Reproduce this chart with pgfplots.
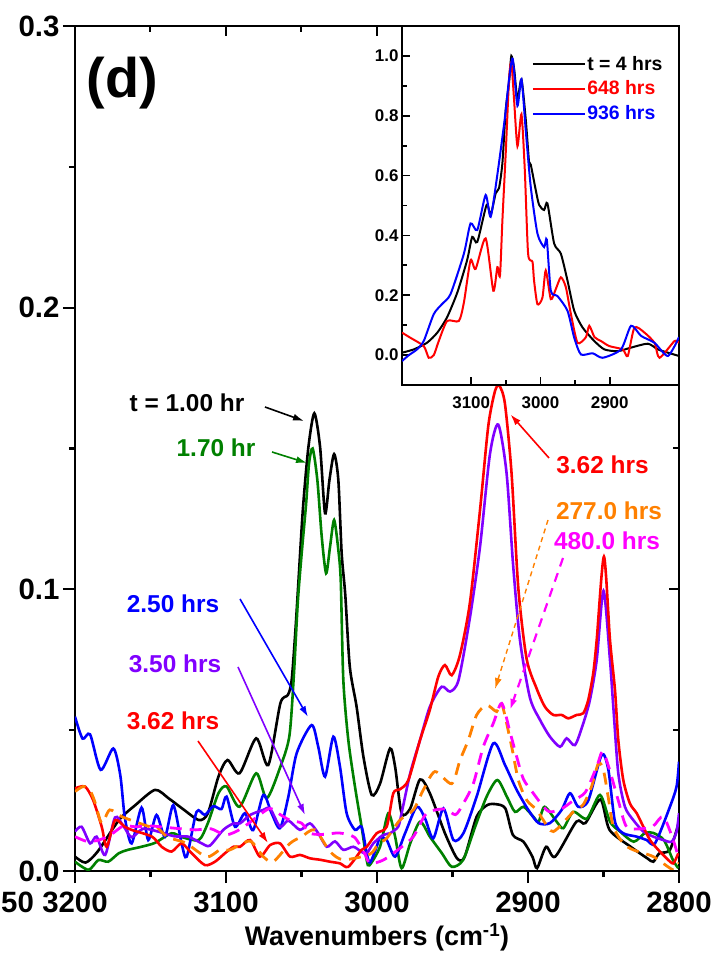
\documentclass[border=0pt]{standalone}
\usepackage{fontspec}
\setmainfont{Liberation Sans}
\usepackage{pgfplots}
\pgfplotsset{compat=1.18}
\usetikzlibrary{arrows.meta}

\definecolor{cgreen}{RGB}{0,128,0}
\definecolor{cviolet}{RGB}{128,0,255}
\definecolor{corange}{RGB}{255,128,0}
\definecolor{cmagenta}{RGB}{255,0,255}

\newcommand{\tickfont}{\bfseries\fontsize{29.5}{31}\selectfont}
\newcommand{\lblfont}{\bfseries\fontsize{24.5}{26}\selectfont}
\newcommand{\insetfont}{\bfseries\fontsize{17}{19}\selectfont}

\pgfplotsset{
  spec/.style={line width=2.6bp, smooth, tension=0.45},
  dspec/.style={line width=2.8bp, smooth, tension=0.45, dash pattern=on 12bp off 8bp},
}

\begin{document}
\begin{tikzpicture}
\useasboundingbox (0,0) rectangle (717bp,963bp);

% ---------------- main panel ----------------
\begin{axis}[
  at={(75bp,92bp)}, anchor=south west,
  scale only axis, width=604bp, height=845bp,
  x dir=reverse, xmin=2800, xmax=3200, ymin=0, ymax=0.3,
  xtick={2800,2900,3000,3100,3200}, ytick={0,0.1,0.2,0.3},
  minor x tick num=1, minor y tick num=1,
  xtick pos=left, ytick pos=left,
  tick align=outside,
  major tick length=12bp, minor tick length=6bp,
  axis line style={line width=2.5bp},
  every tick/.style={line width=2.2bp, black},
  scaled y ticks=false,
  /pgf/number format/assume math mode=true,
  /pgf/number format/1000 sep={},
  yticklabel style={/pgf/number format/fixed, /pgf/number format/precision=1,
    /pgf/number format/fixed zerofill},
  xticklabel style={yshift=-5bp},
  ticklabel style={font=\tickfont},
  xlabel={Wavenumbers (cm\textsuperscript{-1})},
  xlabel style={font=\bfseries\fontsize{27}{29}\selectfont, yshift=-4bp},
]
% t = 1.00 hr
\addplot[spec, black] coordinates {
(3200,0.0051)(3193,0.0030)(3185,0.0069)(3171,0.018)(3160,0.0234)(3147,0.0288)
(3138,0.0258)(3129,0.0222)(3118,0.0181)(3112,0.0205)(3105,0.0335)(3099,0.0394)
(3091,0.0347)(3080,0.0471)(3072,0.0376)(3064,0.0595)(3059,0.0625)(3056.5,0.0678)
(3054,0.0856)(3052,0.103)(3049,0.129)(3045.4,0.1506)(3041.5,0.1625)(3037.7,0.1506)
(3034.4,0.127)(3031.5,0.1388)(3028.4,0.148)(3025.6,0.1388)(3023.4,0.1128)(3021,0.098)
(3018,0.0725)(3013.5,0.0583)(3009,0.0406)(3003.5,0.027)(2998,0.031)(2991.4,0.0435)
(2988,0.037)(2983.7,0.0205)(2978,0.0222)(2971.5,0.0325)(2965,0.0276)(2955,0.0134)
(2947,0.0045)(2942,0.005)(2934,0.0193)(2927,0.0234)(2921,0.0237)(2915,0.0222)
(2910,0.0128)(2903,0.0104)(2897,0.005)(2894,0.001)(2888,0.0086)(2882,0.0051)
(2868,0.0175)(2862,0.017)(2852,0.0254)(2846,0.0146)(2832,0.0086)(2821,0.0045)
(2817,0.0033)(2813,0.0063)(2806,0.0075)(2800,0.0175)};
% 1.70 hr
\addplot[spec, cgreen] coordinates {
(3200,0.0033)(3191,0.0004)(3184.5,0.0039)(3178,0.0033)(3171,0.0063)(3165,0.0075)
(3156,0.0086)(3147,0.010)(3136,0.0134)(3129,0.012)(3118,0.011)(3112,0.017)
(3105,0.0276)(3099.6,0.030)(3091,0.0228)(3080,0.0347)(3073,0.0258)(3064,0.037)
(3058,0.048)(3055,0.070)(3052.5,0.095)(3050,0.112)(3047,0.130)(3045,0.1447)
(3042.6,0.150)(3039.5,0.1388)(3036.6,0.1187)(3033.7,0.1057)(3031.1,0.1151)
(3028.4,0.1246)(3025.6,0.114)(3024,0.103)(3022.3,0.0678)(3019,0.0465)(3014.6,0.030)
(3010.2,0.0157)(3006.8,0.0039)(3005,0.002)(2998,0.0086)(2992.5,0.0205)(2988,0.0122)
(2983.7,0.001)(2978,0.0098)(2971.5,0.0175)(2965,0.0122)(2957,0.0063)(2950.5,0.0015)
(2943,0.0039)(2935,0.0157)(2927.4,0.0264)(2920.3,0.0323)(2914,0.0264)(2908.6,0.021)
(2903,0.0228)(2896.5,0.0193)(2893,0.0175)(2889,0.0228)(2881,0.0175)(2876.6,0.0152)
(2870,0.021)(2861,0.0186)(2852.3,0.027)(2845.7,0.0175)(2839,0.014)(2830,0.0104)
(2822.5,0.0135)(2817,0.0135)(2810,0.011)(2804,0.0039)(2800.5,0.001)};
% 2.50 hrs
\addplot[spec, blue] coordinates {
(3200,0.0548)(3195,0.0470)(3190,0.0485)(3183,0.0359)(3174.6,0.0435)(3170,0.0340)
(3167,0.019)(3162.5,0.0098)(3155.9,0.0225)(3151.5,0.011)(3146,0.0199)(3140.4,0.0122)
(3134.9,0.0234)(3129.4,0.0098)(3126,0.0051)(3119.5,0.021)(3114,0.0199)(3108.4,0.023)
(3103,0.022)(3099.6,0.0264)(3094,0.0157)(3087.5,0.0205)(3082,0.0145)(3075.3,0.027)
(3069.8,0.0205)(3064.2,0.0152)(3058.7,0.0264)(3053.2,0.0418)(3043.3,0.0518)
(3038.9,0.0441)(3034.4,0.0335)(3028.9,0.0477)(3024.5,0.037)(3020.1,0.0205)
(3014.6,0.0146)(3010.2,0.0157)(3006.8,0.0063)(3004.6,0.003)(3000.2,0.0086)
(2998,0.0120)(2993.6,0.011)(2988,0.0051)(2981.4,0.0134)(2973.7,0.0228)(2968.2,0.0187)
(2962.7,0.0116)(2956,0.0222)(2949.4,0.011)(2942.8,0.0134)(2934,0.0264)(2923,0.0453)
(2915.2,0.0376)(2907.5,0.0288)(2899.8,0.0217)(2893,0.017)(2885.5,0.017)(2877.7,0.0217)
(2872.2,0.0276)(2866.7,0.0228)(2860.1,0.025)(2851.2,0.0412)(2846.8,0.036)
(2842.4,0.0175)(2836.9,0.0134)(2828,0.0122)(2821.4,0.011)(2815.9,0.0098)(2806,0.0228)
(2801.6,0.030)(2800,0.0388)};
% 3.50 hrs
\addplot[spec, cviolet] coordinates {
(3200,0.014)(3195.6,0.0157)(3190,0.0098)(3185.7,0.0122)(3180,0.0057)(3173.5,0.0190)
(3168,0.016)(3162.5,0.012)(3155,0.015)(3145,0.0140)(3134,0.0123)(3125,0.0122)
(3116,0.0098)(3110.7,0.009)(3101.8,0.0146)(3095,0.0169)(3090.7,0.0169)(3084,0.0199)
(3075.3,0.0217)(3070.8,0.0222)(3064.2,0.0157)(3058.7,0.0179)(3051,0.0146)(3044.4,0.0169)
(3038.9,0.0134)(3033.3,0.0086)(3027.8,0.0105)(3022.3,0.0075)(3015.7,0.0086)
(3010.2,0.0068)(3006.8,0.0063)(3002.4,0.0098)(2995.8,0.0128)(2991.4,0.0134)
(2986,0.0157)(2983.7,0.0205)(2978,0.0347)(2971.5,0.0465)(2965,0.0583)(2957.2,0.0654)
(2951.6,0.0637)(2946,0.0678)(2938.5,0.0898)(2931.8,0.115)(2925.2,0.148)(2919.7,0.1585)
(2914.2,0.1413)(2909.8,0.1083)(2905.3,0.0819)(2898.7,0.0615)(2892,0.0536)(2885.5,0.0477)
(2878.8,0.0441)(2874.4,0.0471)(2868.9,0.0447)(2863.4,0.0524)(2859,0.0607)(2854.5,0.0749)
(2850,0.0995)(2845.7,0.0749)(2843.5,0.0583)(2840.2,0.0347)(2835.8,0.0228)(2830.3,0.0181)
(2823.6,0.014)(2817,0.0122)(2810.4,0.011)(2804.9,0.0104)(2801.6,0.014)(2800,0.0205)};
% 3.62 hrs
\addplot[spec, red] coordinates {
(3200,0.0293)(3193.4,0.030)(3188,0.0252)(3182.3,0.0157)(3179,0.0086)(3173.5,0.018)
(3167,0.0157)(3162.5,0.0146)(3149,0.0122)(3142.6,0.0086)(3136,0.0069)(3129.4,0.0098)
(3122.7,0.0063)(3114,0.0021)(3107.3,0.0033)(3100.7,0.0063)(3095,0.0086)(3090.7,0.0086)
(3084,0.011)(3077.5,0.0051)(3070.8,0.0092)(3064.2,0.0098)(3057.6,0.0051)(3051,0.0057)
(3044.4,0.0045)(3037.8,0.004)(3031.1,0.0033)(3024.5,0.0027)(3019,0.0015)(3010.2,0.0075)
(3006.8,0.0086)(3000.2,0.0134)(2993.6,0.0157)(2989.2,0.0276)(2984.8,0.029)(2979.2,0.0323)
(2971.5,0.0465)(2965,0.0572)(2959.4,0.069)(2955,0.0731)(2950.5,0.0695)(2945.1,0.0766)
(2938.5,0.0951)(2931.8,0.128)(2926.3,0.158)(2921.9,0.1703)(2919,0.1723)(2915.3,0.166)
(2910.9,0.1413)(2906.4,0.1004)(2900.9,0.0753)(2894.3,0.0648)(2888.8,0.0583)
(2883.2,0.0554)(2877.7,0.0554)(2873.3,0.0542)(2867.8,0.0554)(2863.4,0.056)(2860.1,0.0607)
(2856.8,0.0702)(2854.5,0.082)(2849.7,0.1116)(2845.7,0.082)(2842.4,0.0643)(2840.2,0.0465)
(2836.9,0.0323)(2832.5,0.024)(2828,0.0205)(2823.6,0.0157)(2819.2,0.011)(2813.7,0.0075)
(2808.2,0.0045)(2803.8,0.0027)(2800.5,0.0063)};
% 277.0 hrs
\addplot[dspec, corange] coordinates {
(3200,0.0282)(3194.5,0.030)(3190,0.0285)(3186.8,0.0245)(3182.3,0.017)(3177,0.0217)
(3169,0.0193)(3158,0.0171)(3150.3,0.0157)(3146,0.0157)(3139.3,0.0122)(3132.7,0.011)
(3126.1,0.0098)(3112.8,0.005)(3104,0.0075)(3097.4,0.0075)(3084.1,0.0106)(3075.3,0.0051)
(3068.7,0.0033)(3057.6,0.0098)(3049.9,0.0122)(3041.1,0.0146)(3031.1,0.0069)(3022.3,0.004)
(3004.6,0.006)(2999.1,0.0098)(2993.6,0.0116)(2984.8,0.0181)(2975.9,0.0217)(2969.3,0.0288)
(2961.6,0.0353)(2950.5,0.031)(2945,0.0394)(2939.5,0.0465)(2934,0.0554)(2927.4,0.0589)
(2920.7,0.0566)(2917.4,0.0595)(2910.8,0.0441)(2906.4,0.0323)(2900.9,0.0252)(2894.2,0.0217)
(2889.9,0.0181)(2883.2,0.014)(2870,0.021)(2863.4,0.0236)(2857.9,0.030)(2853.4,0.0382)
(2850.1,0.036)(2846.8,0.026)(2843.5,0.0157)(2836.9,0.0098)(2830.3,0.0075)(2817,0.0051)
(2803.8,0.0004)(2800,0.003)};
% 480.0 hrs
\addplot[dspec, cmagenta] coordinates {
(3200,0.0122)(3192,0.0105)(3184,0.011)(3176,0.013)(3168,0.016)(3160,0.0157)(3150,0.016)
(3140,0.0155)(3130,0.015)(3120,0.0146)(3110,0.0150)(3100,0.0128)(3090,0.015)(3080,0.019)
(3071,0.0222)(3064,0.020)(3057.6,0.018)(3050,0.017)(3044.4,0.0134)(3035,0.013)
(3025,0.0135)(3015,0.012)(3008,0.006)(3004.6,0.0027)(2995.8,0.0039)(2985,0.008)
(2975.9,0.0122)(2967.1,0.0205)(2955,0.022)(2948,0.020)(2942.8,0.024)(2936.2,0.031)
(2929.6,0.0441)(2923,0.0524)(2917.4,0.0595)(2911.9,0.0493)(2907.5,0.0406)(2903,0.0326)
(2896.5,0.0276)(2890,0.023)(2885.5,0.021)(2878,0.022)(2870,0.025)(2862,0.028)
(2854.5,0.037)(2850.6,0.0424)(2846,0.036)(2840.2,0.025)(2834.7,0.0157)(2825,0.015)
(2817,0.016)(2810.4,0.0193)(2803.8,0.011)(2800,0.004)};
\end{axis}

% mirrored ticks on the top and right edges
\begin{axis}[
  at={(75bp,92bp)}, anchor=south west,
  scale only axis, width=604bp, height=845bp,
  x dir=reverse, xmin=2800, xmax=3200, ymin=0, ymax=0.3,
  xtick={2800,2900,3000,3100,3200}, ytick={0,0.1,0.2,0.3},
  minor x tick num=1, minor y tick num=1,
  xtick pos=right, ytick pos=right,
  tick align=inside,
  major tick length=10bp, minor tick length=6bp,
  axis line style={draw=none},
  every tick/.style={line width=2bp, black},
  xticklabels={}, yticklabels={},
]
\end{axis}

% ---------------- inset ----------------
\begin{axis}[
  at={(402bp,578bp)}, anchor=south west,
  scale only axis, width=277bp, height=359bp,
  axis background/.style={fill=white},
  x dir=reverse, xmin=2800, xmax=3200, ymin=-0.1, ymax=1.1,
  xtick={2900,3000,3100}, ytick={0,0.2,0.4,0.6,0.8,1.0},
  minor x tick num=1, minor y tick num=1,
  xtick pos=left, ytick pos=left,
  tick align=inside,
  major tick length=8bp, minor tick length=5bp,
  axis line style={line width=2.5bp},
  every tick/.style={line width=1.8bp, black},
  /pgf/number format/assume math mode=true,
  /pgf/number format/1000 sep={},
  yticklabel style={/pgf/number format/fixed, /pgf/number format/precision=1,
    /pgf/number format/fixed zerofill},
  xticklabel style={yshift=-8bp},
  ticklabel style={font=\insetfont},
  legend cell align=left,
  legend image code/.code={\draw[#1] (0bp,0bp) -- (52bp,0bp);},
  legend style={draw=none, fill=none, at={(rel axis cs:0.468,0.921)}, anchor=north west,
    font=\bfseries\fontsize{19.5}{21}\selectfont, inner sep=0pt, row sep=6.3bp,
    nodes={inner sep=1.5bp}},
]
\addplot[line width=2bp, black, smooth, tension=0.4] coordinates {
(3200,0.008)(3183,0.019)(3164,0.041)(3149,0.075)(3135,0.126)(3120,0.21)(3106,0.317)
(3098.6,0.395)(3091.3,0.378)(3077.8,0.502)(3072,0.468)(3064.7,0.541)(3059.9,0.558)
(3055,0.642)(3050.2,0.82)(3045.4,0.911)(3042.1,1.0)(3038,0.956)(3033.3,0.855)
(3027.5,0.922)(3021.3,0.788)(3016.4,0.642)(3014,0.636)(3006.9,0.552)(3002,0.502)
(2994.8,0.485)(2990,0.507)(2980.3,0.373)(2970.6,0.339)(2961,0.249)(2951.3,0.148)
(2939.2,0.092)(2922.3,0.047)(2907.8,0.019)(2888.5,0.013)(2869.2,0.025)(2845,0.038)
(2830.5,0.019)(2816,0.008)(2800,-0.003)};
\addlegendentry{t = 4 hrs}
\addplot[line width=2bp, red, smooth, tension=0.4] coordinates {
(3200,0.075)(3188,0.058)(3168.6,0.03)(3161.4,-0.009)(3154.1,0.0)(3146.9,0.047)
(3134.8,0.114)(3117.9,0.114)(3110.6,0.176)(3101,0.317)(3093.7,0.288)(3079.2,0.39)
(3068.1,0.215)(3062.3,0.294)(3058.5,0.266)(3055,0.451)(3050.2,0.676)(3045.4,0.922)
(3042.1,0.979)(3038.2,0.855)(3033.3,0.698)(3027.5,0.805)(3022.7,0.62)(3017.9,0.339)
(3011.6,0.312)(3009.3,0.249)(3004.4,0.17)(2997.2,0.192)(2992.4,0.283)(2985.1,0.187)
(2978,0.22)(2970.6,0.26)(2963.4,0.227)(2956.1,0.137)(2946.5,0.041)(2934.4,0.06)
(2929.6,0.098)(2922,0.06)(2912.7,0.047)(2900.6,0.03)(2881.3,0.019)(2874,-0.003)
(2864.3,0.092)(2849.8,0.075)(2835.4,0.041)(2828.1,-0.009)(2806.4,0.047)(2800,0.04)};
\addlegendentry{\textcolor{red}{648 hrs}}
\addplot[line width=2bp, blue, smooth, tension=0.4] coordinates {
(3200,-0.02)(3190,0.0)(3178.3,0.019)(3168.6,0.047)(3154.1,0.137)(3142,0.171)
(3129.9,0.204)(3110.6,0.339)(3101,0.44)(3091.3,0.418)(3079.2,0.535)(3072,0.462)
(3062.3,0.603)(3051.7,0.788)(3045.4,0.922)(3040.1,0.99)(3033.3,0.833)(3027.5,0.922)
(3021.3,0.751)(3014.1,0.563)(3004.4,0.406)(2994.8,0.361)(2990.9,0.386)(2985.1,0.215)
(2975.4,0.197)(2961,0.148)(2951.3,0.058)(2941.6,0.002)(2924.7,0.006)(2910.2,-0.009)
(2883.7,0.019)(2869.2,0.098)(2854.7,0.064)(2835.4,0.041)(2816,-0.003)(2800,0.06)};
\addlegendentry{\textcolor{blue}{936 hrs}}
\end{axis}

% ---------------- annotations ----------------
\node[font=\bfseries\fontsize{56}{60}\selectfont, inner sep=0] at (122.5bp,879.5bp) {(d)};
\node[anchor=west, font=\tickfont, inner sep=0] at (1bp,61bp) {50};

\tikzset{lab/.style={font=\lblfont, inner sep=0},
  arr/.style={line width=1.6bp, -{Latex[length=11bp,width=7bp]}}}

\node[lab, text=black]    at (187bp,560.5bp) {t = 1.00 hr};
\node[lab, text=cgreen]   at (216bp,515bp) {1.70 hr};
\node[lab, text=blue]     at (173bp,359bp) {2.50 hrs};
\node[lab, text=cviolet]  at (175bp,299bp) {3.50 hrs};
\node[lab, text=red]      at (173bp,242bp) {3.62 hrs};
\node[lab, text=red]      at (602.5bp,498bp) {3.62 hrs};
\node[lab, text=corange]  at (609bp,452bp) {277.0 hrs};
\node[lab, text=cmagenta] at (607bp,422bp) {480.0 hrs};

\draw[arr, black]   (265bp,556bp) -- (304bp,542bp);
\draw[arr, cgreen]  (272bp,511bp) -- (307bp,500bp);
\draw[arr, blue]    (240bp,364bp) -- (308bp,246bp);
\draw[arr, cviolet] (238bp,296bp) -- (305bp,148bp);
\draw[arr, red]     (198bp,222bp) -- (268bp,120bp);
\draw[arr, red]     (549bp,505bp) -- (510.5bp,548.5bp);
\draw[arr, corange, line width=1.4bp, dash pattern=on 5bp off 4bp] (548bp,443bp) -- (495bp,274bp);
\draw[arr, cmagenta, line width=2.2bp, dash pattern=on 9bp off 7bp] (563bp,405bp) -- (510bp,253bp);
\end{tikzpicture}
\end{document}
